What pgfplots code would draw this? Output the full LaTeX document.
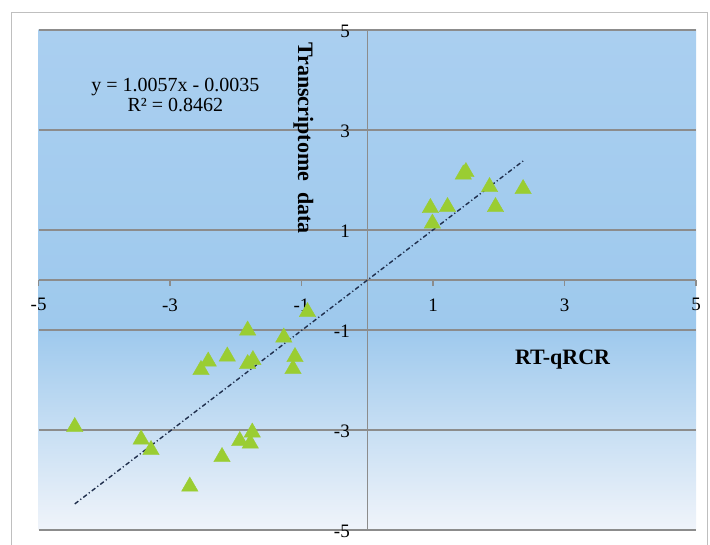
\documentclass[border=0pt]{standalone}
\usepackage{pgfplots}
\pgfplotsset{compat=1.18}
\usepackage{fontspec}
\setmainfont{Liberation Serif}
\definecolor{bgtop}{RGB}{170,207,240}
\definecolor{bgmid}{RGB}{158,201,237}
\definecolor{bgbot}{RGB}{240,244,250}
\definecolor{gridc}{RGB}{140,140,140}
\definecolor{markc}{RGB}{154,205,50}
\definecolor{trendc}{RGB}{30,45,75}
\pgfdeclareverticalshading{bgshade}{100bp}{color(0bp)=(bgbot); color(25bp)=(bgbot); color(45bp)=(bgmid); color(75bp)=(bgtop); color(100bp)=(bgtop)}
\begin{document}
\begin{tikzpicture}[x=1pt,y=1pt]
\useasboundingbox (0,0) rectangle (710,545);
\draw[gray!50, line width=1pt] (11,-5) -- (11,532) -- (707,532) -- (707,-5);
\begin{axis}[at={(38.6pt,15pt)}, anchor=south west, scale only axis,
  width=657.4pt, height=500pt,
  xmin=-5, xmax=5, ymin=-5, ymax=5,
  axis lines=middle,
  axis line style={-, draw=gridc, line width=1.2pt},
  axis background/.style={shading=bgshade},
  xtick={-5,-3,-1,1,3,5}, ytick={-5,-3,-1,1,3,5},
  xticklabels={{-5},{-3},{-1},{1},{3},{5}},
  yticklabels={{-5},{-3},{-1},{1},{3},{5}},
  ymajorgrids,
  major grid style={draw=gridc, line width=1.2pt},
  tick align=outside, major tick length=6pt,
  xtick style={draw=gridc, line width=1.2pt},
  ytick style={draw=none},
  xticklabel style={font=\fontsize{19}{21}\selectfont, yshift=-9pt},
  yticklabel style={font=\fontsize{19}{21}\selectfont, xshift=-8pt, yshift=-1pt},
  clip=false,
]
\addplot[only marks, mark=triangle*, mark size=9.5pt, mark options={fill=markc, draw=markc}] coordinates {
(-0.91,-0.64) (-1.82,-1.01) (-1.27,-1.15) (-2.13,-1.53) (-2.42,-1.63) (-2.53,-1.80)
(-1.74,-1.60) (-1.82,-1.68) (-1.10,-1.54) (-1.13,-1.78) (-4.45,-2.94) (-3.44,-3.19)
(-3.29,-3.40) (-1.75,-3.05) (-1.94,-3.22) (-1.78,-3.27) (-2.21,-3.54) (-2.70,-4.13)
(1.46,2.11) (1.50,2.16) (1.86,1.86) (2.37,1.82) (0.96,1.44) (1.22,1.46) (1.95,1.46) (0.99,1.13)
};
\addplot[trendc, line width=1.4pt, dash pattern=on 4.5pt off 2.5pt on 1.2pt off 2.5pt] coordinates {(-4.45,-4.479) (2.37,2.380)};
\node[align=center, font=\fontsize{20}{20}\selectfont] at (axis cs:-2.92,3.69) {y = 1.0057x - 0.0035\\R² = 0.8462};
\node[rotate=-90, font=\bfseries\fontsize{22}{24}\selectfont] at (axis cs:-0.97,2.84) {Transcriptome\ \ data};
\node[font=\bfseries\fontsize{22}{24}\selectfont] at (axis cs:2.97,-1.6) {RT-qRCR};
\end{axis}
\end{tikzpicture}
\end{document}
